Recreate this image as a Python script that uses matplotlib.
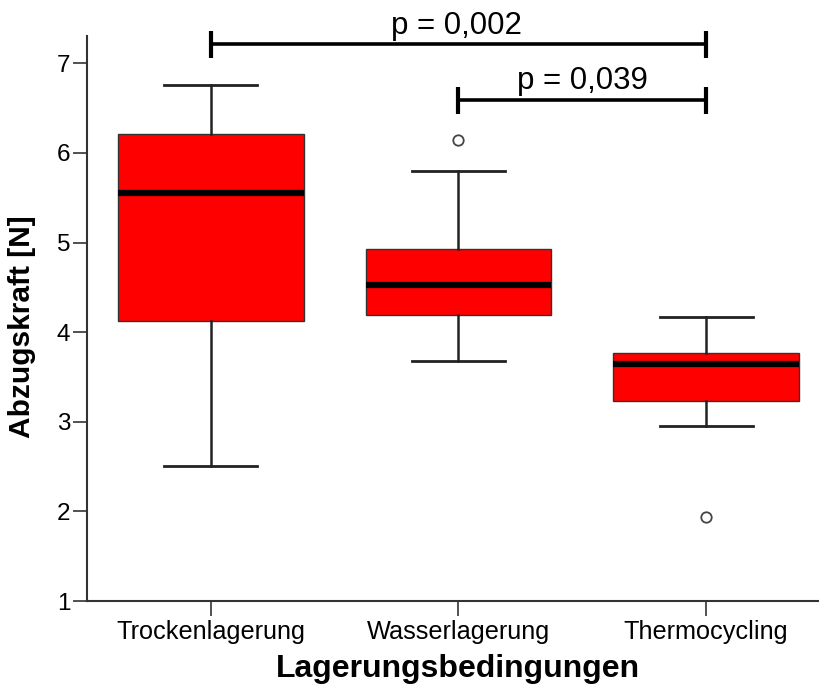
import matplotlib
matplotlib.use('Agg')
import matplotlib.pyplot as plt

plt.rcParams['font.family'] = ['Liberation Sans', 'DejaVu Sans']

# Box statistics per storage condition (pull-off force in N)
groups = ['Trockenlagerung', 'Wasserlagerung', 'Thermocycling']
whisker_low = [2.51, 3.68, 2.95]
q1 = [4.12, 4.19, 3.23]
median = [5.55, 4.53, 3.64]
q3 = [6.21, 4.93, 3.77]
whisker_high = [6.76, 5.80, 4.17]
outliers = [[], [6.14], [1.94]]

# Significance brackets: (from group, to group, bar height, label)
sig_from = [1, 2]
sig_to = [3, 3]
sig_y = [7.21, 6.59]
sig_labels = ['p = 0,002', 'p = 0,039']
sig_text_x = [1.99, 2.5]

stats = []
for i, name in enumerate(groups):
    stats.append(dict(label=name, whislo=whisker_low[i], q1=q1[i], med=median[i],
                      q3=q3[i], whishi=whisker_high[i], fliers=outliers[i]))

fig = plt.figure(figsize=(8.2, 6.92), dpi=100)
ax = fig.add_axes([0.1061, 0.1315, 0.894, 0.8165])

ax.bxp(stats, positions=[1, 2, 3], widths=0.75, patch_artist=True,
       boxprops=dict(facecolor='#ff0000', edgecolor='#333333', linewidth=1.0),
       medianprops=dict(color='black', linewidth=4.5, solid_capstyle='butt'),
       whiskerprops=dict(color='#222222', linewidth=1.8),
       capprops=dict(color='#222222', linewidth=2.0),
       flierprops=dict(marker='o', markerfacecolor='white', markeredgecolor='#444444',
                       markersize=7.5, markeredgewidth=1.3))

# Significance brackets with end ticks
for a, b, y, lab, tx in zip(sig_from, sig_to, sig_y, sig_labels, sig_text_x):
    ax.plot([a, b], [y, y], color='black', lw=2.6, clip_on=False, solid_capstyle='butt')
    for xe in (a, b):
        ax.plot([xe, xe], [y - 0.15, y + 0.15], color='black', lw=3.0, clip_on=False,
                solid_capstyle='butt')
    ax.text(tx, y + 0.12, lab, ha='center', va='baseline', fontsize=22.5, clip_on=False)

ax.set_xlim(0.5, 3.46)
ax.set_ylim(1, 7.305)
ax.set_yticks([1, 2, 3, 4, 5, 6, 7])
ax.set_xticks([1, 2, 3])
ax.set_xticklabels(groups)

for side in ('top', 'right'):
    ax.spines[side].set_visible(False)
for side in ('left', 'bottom'):
    ax.spines[side].set_color('#333333')
    ax.spines[side].set_linewidth(1.5)

ax.tick_params(axis='y', length=10, width=1.2, color='#333333', pad=2, labelsize=17.5)
ax.tick_params(axis='x', length=11, width=1.2, color='#333333', pad=3, labelsize=18.2)

ax.set_xlabel('Lagerungsbedingungen', fontsize=23, fontweight='bold')
ax.set_ylabel('Abzugskraft [N]', fontsize=21.5, fontweight='bold')
ax.xaxis.set_label_coords(0.506, -0.093)
ax.yaxis.set_label_coords(-0.07, 0.485)

fig.savefig('out.png', dpi=100)
